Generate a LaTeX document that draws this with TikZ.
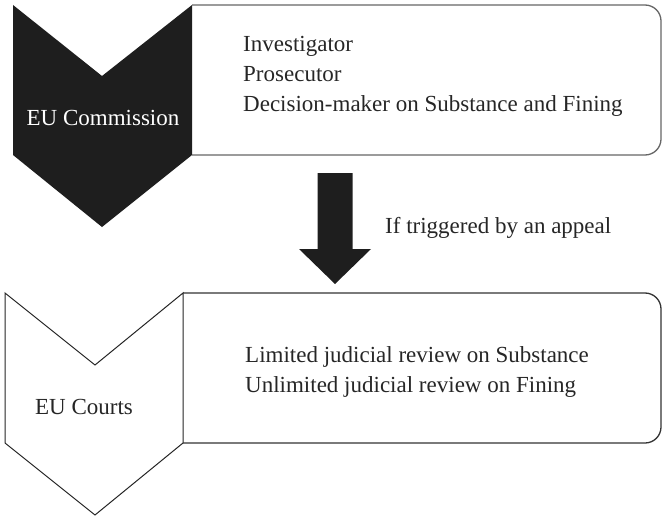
\documentclass[tikz,border=0pt]{standalone}
\usepackage{fontspec}
\setmainfont{Liberation Serif}
\usetikzlibrary{positioning}
\definecolor{chevdark}{HTML}{1E1E1E}
\tikzset{
  boxline/.style={line width=1.3pt, rounded corners=16},
  chevline/.style={line width=1pt, draw=black!85, fill=white},
  lbl/.style={font=\fontsize{23}{27}\selectfont, text=black!85, inner sep=0pt},
}

\begin{document}
\begin{tikzpicture}[x=1pt,y=-1pt]
\useasboundingbox (0,0) rectangle (663,516);
\draw[boxline, draw=black!60] (192,5) -- (661,5) -- (661,155) -- (192,155);
\fill[chevdark] (13,5) -- (102,76) -- (192,5) -- (192,155) -- (102,227) -- (13,155) -- cycle;
\node[lbl, text=white, anchor=base] (comm) at (103,125) {EU Commission};
\node[lbl, anchor=base west] (inv) at (243,52) {Investigator};
\node[lbl, anchor=base west] (pros) at (243,82) {Prosecutor};
\node[lbl, anchor=base west] (dec) at (243,111) {Decision-maker on Substance and Fining};

\coordinate (atop) at (335,173);
\coordinate (atip) at (335,284);
\fill[chevdark] ([xshift=-17.5pt]atop) -- ([xshift=17.5pt]atop) -- ([xshift=17.5pt]atop |- 0,249) -- ([xshift=36pt]atip |- 0,249) -- (atip) -- ([xshift=-36pt]atip |- 0,249) -- ([xshift=-17.5pt]atop |- 0,249) -- cycle;
\node[lbl, anchor=base west] (trig) at (385,233) {If triggered by an appeal};

\draw[boxline, draw=black!80] (183,293) -- (661,293) -- (661,443) -- (183,443);
\draw[chevline] (5,293) -- (95,365) -- (183,293) -- (183,443) -- (95,515) -- (5,443) -- cycle;
\node[lbl, anchor=base] (courts) at (84,414) {EU Courts};
\node[lbl, anchor=base west] (lim) at (245,362) {Limited judicial review on Substance};
\node[lbl, anchor=base west] (unlim) at (245,392) {Unlimited judicial review on Fining};
\end{tikzpicture}
\end{document}
